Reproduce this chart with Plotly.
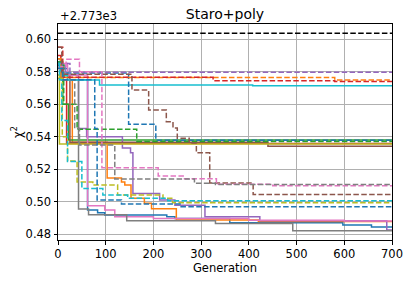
import plotly.graph_objects as go

CHI2_OFFSET = 2773.0
REFERENCE_LEVEL = 0.6037
TITLE = "Staro+poly"
X_TICKS = [0, 100, 200, 300, 400, 500, 600, 700]
Y_TICKS = [0.48, 0.50, 0.52, 0.54, 0.56, 0.58, 0.60]
COLORS = ["#1f77b4", "#ff7f0e", "#2ca02c", "#d62728", "#9467bd",
          "#8c564b", "#e377c2", "#7f7f7f", "#bcbd22", "#17becf"]

# solid runs: generation of each improvement, best chi2 (minus offset)
s_blue_gen = [0, 5, 20, 62, 83, 98, 228, 245, 360, 597, 657]
s_blue_val = [0.586, 0.582, 0.575, 0.4948, 0.4931, 0.4917, 0.4906, 0.4895, 0.4870, 0.4855, 0.4843]
s_orange_gen = [0, 8, 30, 103, 133, 140, 153, 181, 196, 248, 420]
s_orange_val = [0.583, 0.575, 0.5365, 0.5145, 0.5120, 0.5102, 0.5021, 0.4990, 0.4955, 0.4886, 0.4877]
s_green_gen = [0, 10, 22]
s_green_val = [0.584, 0.560, 0.5379]
s_red_gen = [0, 6, 18]
s_red_val = [0.590, 0.575, 0.5357]
s_purple_gen = [0, 15, 43, 60, 135, 152, 157, 213, 245, 308, 423, 689]
s_purple_val = [0.584, 0.578, 0.545, 0.540, 0.533, 0.530, 0.5050, 0.5010, 0.4977, 0.4906, 0.4882, 0.4824]
s_brown_gen = [0, 5, 25, 440]
s_brown_val = [0.588, 0.578, 0.5365, 0.5340]
s_pink_gen = [0, 20, 62, 98, 119, 200, 400, 600]
s_pink_val = [0.585, 0.578, 0.4974, 0.4948, 0.4906, 0.4895, 0.4885, 0.4880]
s_gray_gen = [0, 10, 43, 64, 144, 330, 492]
s_gray_val = [0.583, 0.575, 0.4954, 0.4919, 0.4882, 0.4865, 0.4820]
s_olive_gen = [0, 3]
s_olive_val = [0.578, 0.5354]
s_cyan_gen = [0, 6, 20, 87, 408]
s_cyan_val = [0.586, 0.5775, 0.5749, 0.5718, 0.5714]

# dashed runs
d_blue_gen = [0, 8, 148, 205]
d_blue_val = [0.584, 0.5792, 0.5477, 0.5377]
d_orange_gen = [0, 6, 580]
d_orange_val = [0.588, 0.5765, 0.5749]
d_green_gen = [0, 12, 40, 165]
d_green_val = [0.586, 0.560, 0.5445, 0.5370]
d_red_gen = [0, 10, 325, 580]
d_red_val = [0.595, 0.5766, 0.5745, 0.5739]
d_purple_gen = [0, 25]
d_purple_val = [0.585, 0.5797]
d_brown_gen = [0, 8, 155, 190, 227, 241, 250, 275, 290, 318, 409]
d_brown_val = [0.595, 0.5785, 0.5687, 0.5564, 0.5492, 0.5453, 0.5390, 0.5360, 0.5300, 0.5114, 0.5044]
d_pink_gen = [0, 17, 45, 92, 210, 265, 332, 450]
d_pink_val = [0.583, 0.5877, 0.5800, 0.5208, 0.5157, 0.5140, 0.5106, 0.5097]
d_gray_gen = [0, 10, 35, 45, 119, 286, 330]
d_gray_val = [0.582, 0.575, 0.545, 0.5348, 0.5139, 0.5112, 0.5105]
d_olive_gen = [0, 9, 20, 40, 73, 125, 220, 240]
d_olive_val = [0.576, 0.540, 0.525, 0.512, 0.5102, 0.5040, 0.5020, 0.4993]
d_cyan_gen = [0, 3, 8, 20, 50, 94, 146, 230]
d_cyan_val = [0.585, 0.575, 0.550, 0.5246, 0.5081, 0.5040, 0.5020, 0.5005]
d_blue2_gen = [0, 10, 77, 82, 133, 258]
d_blue2_val = [0.582, 0.575, 0.545, 0.5010, 0.4985, 0.4968]

MAX_GEN = 700

solid_runs = [
    (s_blue_gen, s_blue_val, 0), (s_orange_gen, s_orange_val, 1),
    (s_green_gen, s_green_val, 2), (s_red_gen, s_red_val, 3),
    (s_purple_gen, s_purple_val, 4), (s_brown_gen, s_brown_val, 5),
    (s_pink_gen, s_pink_val, 6), (s_gray_gen, s_gray_val, 7),
    (s_olive_gen, s_olive_val, 8), (s_cyan_gen, s_cyan_val, 9),
]
dashed_runs = [
    (d_blue_gen, d_blue_val, 0), (d_orange_gen, d_orange_val, 1),
    (d_green_gen, d_green_val, 2), (d_red_gen, d_red_val, 3),
    (d_purple_gen, d_purple_val, 4), (d_brown_gen, d_brown_val, 5),
    (d_pink_gen, d_pink_val, 6), (d_gray_gen, d_gray_val, 7),
    (d_olive_gen, d_olive_val, 8), (d_cyan_gen, d_cyan_val, 9),
    (d_blue2_gen, d_blue2_val, 0),
]

fig = go.Figure()

def add_run(gens, vals, ci, dash):
    x = list(gens) + [MAX_GEN]
    y = list(vals) + [vals[-1]]
    fig.add_trace(go.Scatter(
        x=x, y=y, mode="lines",
        line=dict(color=COLORS[ci], width=1.5, shape="hv", dash=dash),
        showlegend=False, hoverinfo="skip"))

for g, v, c in solid_runs:
    add_run(g, v, c, "solid")
for g, v, c in dashed_runs:
    add_run(g, v, c, "5.5px,2.4px")

fig.add_trace(go.Scatter(
    x=[0, MAX_GEN], y=[REFERENCE_LEVEL, REFERENCE_LEVEL], mode="lines",
    line=dict(color="black", width=1.5, dash="5.5px,2.4px"),
    showlegend=False, hoverinfo="skip"))

axis_common = dict(
    showline=True, linecolor="black", linewidth=1, mirror=True,
    ticks="outside", ticklen=3.5, tickwidth=1, tickcolor="black",
    showgrid=True, gridcolor="#b0b0b0", gridwidth=0.8, zeroline=False,
    automargin=False,
    tickfont=dict(family="DejaVu Sans", size=11.5, color="black"),
)

fig.update_layout(
    width=411, height=282,
    margin=dict(l=58, r=19, t=24, b=42, autoexpand=False),
    paper_bgcolor="white", plot_bgcolor="white",
    font=dict(family="DejaVu Sans", color="black"),
    title=dict(text=TITLE, x=0.5, xanchor="center", xref="paper",
               y=1 - 14 / 282, yanchor="middle",
               font=dict(size=14, family="DejaVu Sans", color="black")),
    xaxis=dict(range=[0, MAX_GEN], tickvals=X_TICKS,
               title=dict(text="Generation", standoff=3,
                          font=dict(size=11.5, family="DejaVu Sans")),
               **axis_common),
    yaxis=dict(range=[0.4763, 0.6094], tickvals=Y_TICKS, tickformat=".2f",
               **axis_common),
    annotations=[
        dict(text="+2.773e3", xref="paper", yref="paper",
             x=0, y=1, xanchor="left", yanchor="bottom",
             showarrow=False, yshift=-1,
             font=dict(size=11.5, family="DejaVu Sans", color="black")),
        dict(text="χ<sup>2</sup>", xref="paper", yref="paper",
             x=0, y=0.5, xanchor="center", yanchor="middle",
             xshift=-41, textangle=-90, showarrow=False,
             font=dict(size=11.5, family="DejaVu Sans", color="black")),
    ],
)

fig.write_html("out.html", config={"displayModeBar": False},
               post_script="document.body.style.margin='0';document.body.style.padding='0';")
